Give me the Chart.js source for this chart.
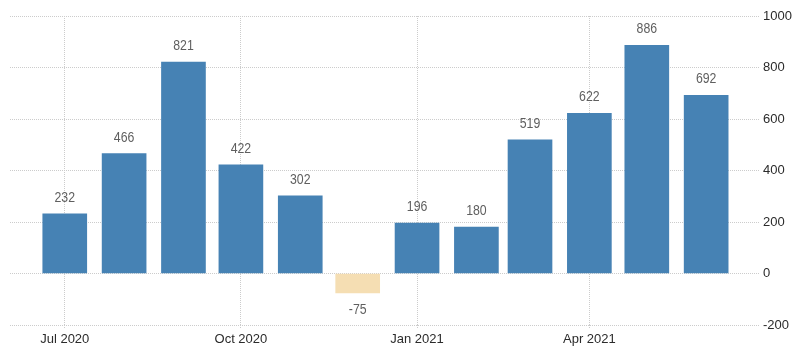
<!DOCTYPE html>
<html>
<head>
<meta charset="utf-8">
<script src="https://cdn.jsdelivr.net/npm/chart.js@4/dist/chart.umd.min.js"></script>
<style>
html,body{margin:0;padding:0;background:#fff;}
#wrap{width:800px;height:358px;}
</style>
</head>
<body>
<div id="wrap"><canvas id="c" width="800" height="358"></canvas></div>
<script>
// Data
const months = ["2020-07","2020-08","2020-09","2020-10","2020-11","2020-12","2021-01","2021-02","2021-03","2021-04","2021-05","2021-06"];
const values = [232, 466, 821, 422, 302, -75, 196, 180, 519, 622, 886, 692];
const tickMonths = ["2020-07","2020-10","2021-01","2021-04"];
const tickLabels = ["Jul 2020","Oct 2020","Jan 2021","Apr 2021"];

const DAY = 86400000;
const origin = Date.UTC(2020, 6, 1);
function dayOf(m){ const [y,mo] = m.split("-").map(Number); return (Date.UTC(y, mo-1, 1) - origin)/DAY; }
const days = months.map(dayOf);
const tickDays = tickMonths.map(dayOf);

const POS = '#4682b4', NEG = '#f5deb3';
const gridColor = '#cccccc';

const valueLabels = {
  id: 'valueLabels',
  afterDatasetsDraw(chart){
    const ctx = chart.ctx;
    const meta = chart.getDatasetMeta(0);
    ctx.save();
    ctx.fillStyle = '#5f5f5f';
    ctx.font = '15px "Liberation Sans", Arial, sans-serif';
    ctx.textAlign = 'center';
    ctx.textBaseline = 'middle';
    meta.data.forEach((el, i) => {
      const v = values[i];
      const y = v >= 0 ? el.y - 16 : el.y + 17;
      ctx.save();
      ctx.translate(el.x, y);
      ctx.scale(0.82, 1);
      ctx.fillText(String(v), 0, 0);
      ctx.restore();
    });
    ctx.restore();
  }
};

new Chart(document.getElementById('c'), {
  type: 'bar',
  data: {
    datasets: [{
      data: days.map((d, i) => ({x: d, y: values[i]})),
      backgroundColor: values.map(v => v >= 0 ? POS : NEG),
      borderWidth: 0,
      barThickness: 44
    }]
  },
  options: {
    responsive: false,
    animation: false,
    layout: {padding: {left: 10, top: 16, right: 0, bottom: 0}},
    plugins: {legend: {display: false}, tooltip: {enabled: false}},
    scales: {
      x: {
        type: 'linear',
        offset: false,
        min: -28.6,
        max: 362.6,
        afterBuildTicks(scale){ scale.ticks = tickDays.map(v => ({value: v})); },
        afterFit(scale){ scale.height = 33; },
        ticks: {
          autoSkip: false,
          maxRotation: 0,
          padding: 3,
          color: '#2b2b2b',
          font: {family: '"Liberation Sans", Arial, sans-serif', size: 13},
          callback(v){ const i = tickDays.indexOf(v); return i >= 0 ? tickLabels[i] : ''; }
        },
        grid: {offset: false, color: gridColor, tickColor: gridColor, tickLength: 4, drawTicks: true, lineWidth: 1, tickBorderDash: [1,1]},
        border: {display: false, dash: [1,1]}
      },
      y: {
        position: 'right',
        min: -200,
        max: 1000,
        afterFit(scale){ scale.width = 41; },
        ticks: {
          stepSize: 200,
          padding: 4,
          color: '#2b2b2b',
          font: {family: '"Liberation Sans", Arial, sans-serif', size: 13},
          callback(v){ return String(v); }
        },
        grid: {color: gridColor, drawTicks: false, lineWidth: 1},
        border: {display: false, dash: [1,1]}
      }
    }
  },
  plugins: [valueLabels]
});
</script>
</body>
</html>
